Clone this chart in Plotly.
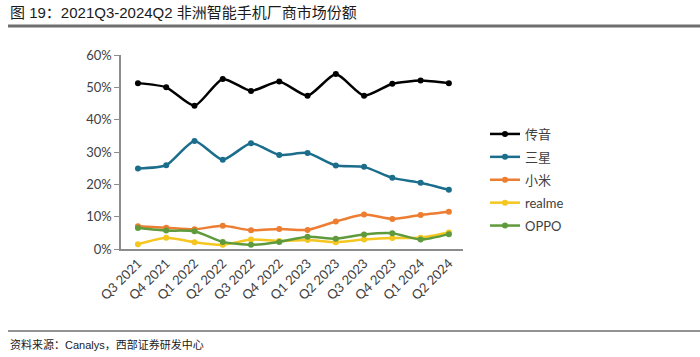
import plotly.graph_objects as go

quarters = ["Q3 2021", "Q4 2021", "Q1 2022", "Q2 2022", "Q3 2022", "Q4 2022",
            "Q1 2023", "Q2 2023", "Q3 2023", "Q4 2023", "Q1 2024", "Q2 2024"]
transsion = [51.3, 50.0, 44.3, 52.6, 48.9, 51.8, 47.4, 54.1, 47.4, 51.1, 52.1, 51.3]
samsung = [24.9, 25.9, 33.4, 27.6, 32.7, 29.1, 29.7, 25.8, 25.4, 22.0, 20.5, 18.3]
xiaomi = [7.0, 6.6, 6.1, 7.2, 5.8, 6.2, 5.9, 8.5, 10.7, 9.3, 10.5, 11.5]
realme = [1.5, 3.5, 2.1, 1.3, 2.9, 2.5, 2.8, 2.1, 2.9, 3.4, 3.5, 5.1]
oppo = [6.5, 5.7, 5.5, 2.2, 1.3, 2.2, 3.8, 3.2, 4.5, 4.9, 2.9, 4.6]

series = [
    ("传音", transsion, "#000000"),
    ("三星", samsung, "#1B6D8C"),
    ("小米", xiaomi, "#ED7D31"),
    ("realme", realme, "#F4C61F"),
    ("OPPO", oppo, "#5F9A3C"),
]

W, H = 700, 357


def px(x):
    return x / W


def py(y):
    return 1 - y / H


fig = go.Figure()
for i, (name, vals, color) in enumerate(series):
    fig.add_trace(go.Scatter(
        x=quarters, y=[v / 100 for v in vals], name=name, mode="lines+markers",
        line=dict(color=color, width=2.5, shape="spline", smoothing=0.6),
        marker=dict(color=color, size=6),
        legendgroup=str(i),
    ))

fnt = "Lato, 'Noto Sans CJK SC', sans-serif"
fig.update_layout(
    width=W, height=H,
    margin=dict(l=0, r=0, t=0, b=0, autoexpand=False),
    paper_bgcolor="white", plot_bgcolor="white",
    font=dict(family=fnt, size=13, color="#404040"),
    showlegend=True,
    legend=dict(x=px(485), y=py(119), xanchor="left", yanchor="top",
                font=dict(size=13, color="#404040"), tracegroupgap=3,
                itemwidth=30, bgcolor="rgba(0,0,0,0)"),
    xaxis=dict(domain=[px(121), px(463)], type="category", range=[-0.6, 11.5],
               showline=True, linecolor="#8c8c8c", linewidth=1.5, ticks="",
               tickangle=-45, showgrid=False, automargin=False,
               tickfont=dict(size=13, color="#404040")),
    yaxis=dict(domain=[py(249), py(55)], range=[0, 0.6], dtick=0.1,
               tickformat=".0%", showline=True, linecolor="#8c8c8c", linewidth=1.5,
               ticks="outside", ticklen=5, tickcolor="#8c8c8c", showgrid=False,
               zeroline=False, automargin=False,
               tickfont=dict(size=13, color="#404040")),
)

fig.add_annotation(x=px(8), y=py(13), xref="paper", yref="paper", xanchor="left",
                   yanchor="middle", showarrow=False,
                   text="图 19：2021Q3-2024Q2 非洲智能手机厂商市场份额",
                   font=dict(family="'Liberation Sans', 'Noto Sans CJK SC', sans-serif",
                             size=15, color="#1a1a1a"))
fig.add_shape(type="line", xref="paper", yref="paper", x0=px(8), x1=1, y0=py(26),
              y1=py(26), line=dict(color="#6f6f6f", width=3))
fig.add_shape(type="line", xref="paper", yref="paper", x0=px(8), x1=1, y0=py(331),
              y1=py(331), line=dict(color="#6f6f6f", width=1.5))
fig.add_annotation(x=px(8), y=py(344), xref="paper", yref="paper", xanchor="left",
                   yanchor="middle", showarrow=False,
                   text="资料来源：Canalys，西部证券研发中心",
                   font=dict(family="'Liberation Sans', 'Noto Sans CJK SC', sans-serif",
                             size=11, color="#1a1a1a"))

fig.write_html("out.html", config={"displayModeBar": False},
               post_script="document.body.style.margin='0';")
